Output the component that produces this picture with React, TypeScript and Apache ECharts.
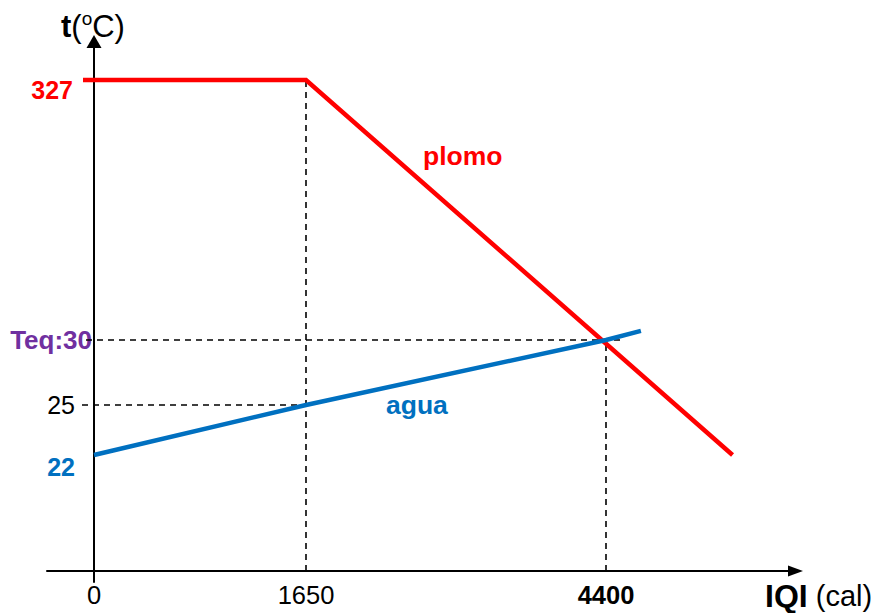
import React, { useEffect, useRef } from "react";
import * as echarts from "echarts";

// ---- data (read from the schematic) ----
// heat axis ticks (cal)
const xTicks = [0, 1650, 4400];
const xTickLabels = ["0", "1650", "4400"];
// temperature axis ticks (ºC)
const yTicks = [22, 25, 30, 327];
const yTickLabels = ["22", "25", "Teq:30", "327"];

// plomo (lead): IQI (cal) vs t (ºC)
const plomoIQI = [0, 1650, 5560];
const plomoT = [327, 327, 22];
// agua (water): IQI (cal) vs t (ºC)
const aguaIQI = [0, 1650, 4400, 4720];
const aguaT = [22, 25, 30, 30.7];

// ---- schematic (not to scale) axes: where each tick sits on its axis ----
const xTickPos = [0, 212, 512];
const yTickPos = [116, 166, 231, 491];
const yBreak = 100; // temperatures above this are drawn beyond the axis break

const xLabelStyle = ["n", "n", "b"];
const yLabelStyle = ["blue", "black", "purple", "red"];

function interp(v: number, ks: number[], ps: number[]) {
  let i = 0;
  if (v <= ks[0]) i = 0;
  else if (v >= ks[ks.length - 1]) i = ks.length - 2;
  else {
    while (i < ks.length - 2 && v > ks[i + 1]) i++;
  }
  const k0 = ks[i], k1 = ks[i + 1], p0 = ps[i], p1 = ps[i + 1];
  return p0 + ((v - k0) * (p1 - p0)) / (k1 - k0);
}
const mapX = (c: number) => interp(c, xTicks, xTickPos);
const mapY = (t: number) => {
  const low = yTicks.filter((v) => v < yBreak);
  const lowPos = yTickPos.slice(0, low.length);
  if (t < yBreak) return interp(t, low, lowPos);
  return yTickPos[yTickPos.length - 1] + (t - yTicks[yTicks.length - 1]);
};

const LEAD = 10; // small overhang of lines to the left of the t axis

const FONT = "'Liberation Sans', Arial, sans-serif";

export default function App() {
  const ref = useRef<HTMLDivElement>(null);
  useEffect(() => {
    if (!ref.current) return;
    const chart = echarts.init(ref.current, null, { renderer: "svg" });

    const plomoData = plomoIQI.map((c, i) => [mapX(c) - (i === 0 ? LEAD + 1 : 0), mapY(plomoT[i])]);
    const aguaData = aguaIQI.map((c, i) => [mapX(c), mapY(aguaT[i])]);

    const x1650 = mapX(xTicks[1]);
    const x4400 = mapX(xTicks[2]);
    const guides = [
      [[x1650, 0], [x1650, mapY(plomoT[1])]],
      [[-LEAD - 2, mapY(25)], [x1650, mapY(25)]],
      [[-LEAD + 2, mapY(30)], [x4400 + 15, mapY(30)]],
      [[x4400, 0], [x4400, mapY(30)]],
    ];

    const guideSeries = guides.map((d) => ({
      type: "line",
      data: d,
      symbol: "none",
      silent: true,
      z: 1,
      lineStyle: { color: "#000", width: 1.6, type: [6, 5] },
    }));

    chart.setOption({
      animation: false,
      textStyle: { fontFamily: FONT },
      grid: {
        left: 47,
        right: 83.5,
        top: 41.5,
        bottom: 31,
        containLabel: false,
        outerBoundsMode: "none",
      },
      xAxis: {
        type: "value",
        min: -47,
        max: 701.5,
        splitLine: { show: false },
        axisTick: { show: false },
        axisLine: {
          onZero: true,
          symbol: ["none", "triangle"],
          symbolSize: [11, 15],
          lineStyle: { color: "#000", width: 2 },
        },
        axisLabel: {
          customValues: xTickPos,
          margin: 0,
          fontFamily: FONT,
          formatter: (v: number) => {
            const i = xTickPos.findIndex((p) => Math.abs(p - v) < 0.5);
            if (i < 0) return "";
            return `{${xLabelStyle[i]}|${xTickLabels[i]}}`;
          },
          rich: {
            n: { fontSize: 25.5, color: "#000", fontFamily: FONT },
            b: { fontSize: 25.5, color: "#000", fontWeight: "bold", fontFamily: FONT },
          },
        },
      },
      yAxis: {
        type: "value",
        min: -11,
        max: 529.5,
        splitLine: { show: false },
        axisTick: { show: false },
        axisLine: {
          onZero: true,
          symbol: ["none", "triangle"],
          symbolSize: [15, 13],
          lineStyle: { color: "#000", width: 2 },
        },
        axisLabel: {
          customValues: yTickPos,
          margin: -45,
          fontFamily: FONT,
          formatter: (v: number) => {
            const i = yTickPos.findIndex((p) => Math.abs(p - v) < 0.5);
            if (i < 0) return "";
            return `{${yLabelStyle[i]}|${yTickLabels[i]}}`;
          },
          rich: {
            red: { fontSize: 25, color: "#FF0000", fontWeight: "bold", padding: [20, 19, 0, 0], fontFamily: FONT },
            black: { fontSize: 25, color: "#000", padding: [0, 17, 0, 0], fontFamily: FONT },
            purple: { fontSize: 26, color: "#7030A0", fontWeight: "bold", padding: [0, 0, 0, 0], fontFamily: FONT },
            blue: { fontSize: 25, color: "#0070C0", fontWeight: "bold", padding: [24, 17, 0, 0], fontFamily: FONT },
          },
        },
      },
      graphic: [
        {
          type: "text",
          x: 61,
          y: 26,
          style: {
            text: "{b|t}{n|(}{s|o}{n|C)}",
            verticalAlign: "middle",
            rich: {
              b: { fontSize: 31, fontWeight: "bold", fill: "#000", fontFamily: FONT },
              n: { fontSize: 31, fill: "#000", fontFamily: FONT },
              s: { fontSize: 19, fill: "#000", fontFamily: FONT, padding: [0, 0, 16, 0] },
            },
          },
        },
        {
          type: "text",
          x: 765,
          y: 596,
          style: {
            text: "{b|IQI}{n| (cal)}",
            verticalAlign: "middle",
            rich: {
              b: { fontSize: 32, fontWeight: "bold", fill: "#000", fontFamily: FONT },
              n: { fontSize: 29, fill: "#000", fontFamily: FONT },
            },
          },
        },
        {
          type: "text",
          x: 423,
          y: 156,
          style: {
            text: "plomo",
            fontSize: 26.5,
            fontWeight: "bold",
            fill: "#FF0000",
            fontFamily: FONT,
            verticalAlign: "middle",
          },
        },
        {
          type: "text",
          x: 386,
          y: 405,
          style: {
            text: "agua",
            fontSize: 26.5,
            fontWeight: "bold",
            fill: "#0070C0",
            fontFamily: FONT,
            verticalAlign: "middle",
          },
        },
      ],
      series: [
        ...guideSeries,
        {
          type: "line",
          name: "plomo",
          data: plomoData,
          symbol: "none",
          z: 2,
          lineStyle: { color: "#FF0000", width: 4.5, cap: "butt", join: "miter" },
        },
        {
          type: "line",
          name: "agua",
          data: aguaData,
          symbol: "none",
          z: 3,
          lineStyle: { color: "#0070C0", width: 4.5, cap: "butt" },
        },
      ],
    });
    return () => chart.dispose();
  }, []);
  return (
    <div
      ref={ref}
      style={{ position: "fixed", left: 0, top: 0, width: 879, height: 613, background: "#fff" }}
    />
  );
}
